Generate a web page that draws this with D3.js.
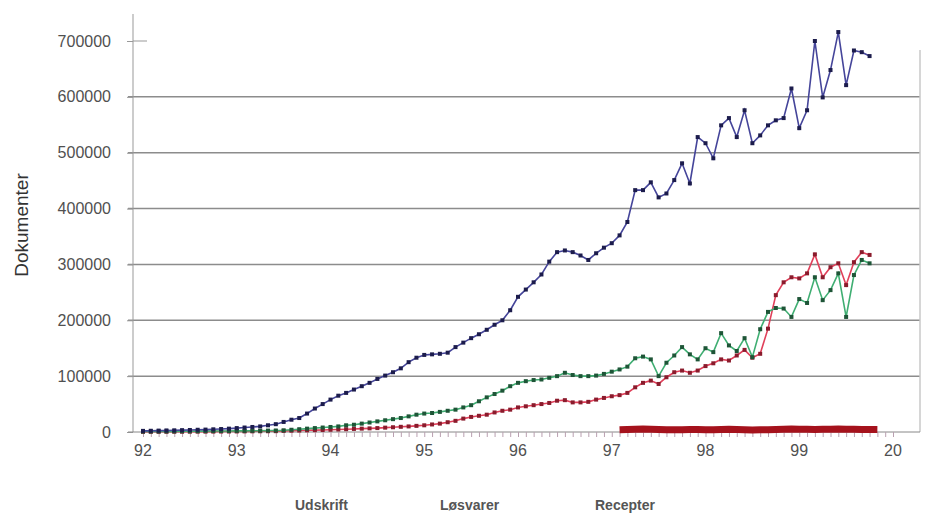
<!DOCTYPE html>
<html>
<head>
<meta charset="utf-8">
<script src="https://cdn.jsdelivr.net/npm/d3@7"></script>
<style>
body { margin: 0; background: #fff; }
svg text { font-family: "Liberation Sans", Arial, sans-serif; }
</style>
</head>
<body>
<div id="chart"></div>
<script>
var w = 929;
var h = 513;

// month index 0 = jan 1992, 93 = okt 1999
var yearTicks = [0, 12, 24, 36, 48, 60, 72, 84, 96];
var yearLabels = ["92", "93", "94", "95", "96", "97", "98", "99", "20"];
var yTicks = [0, 100000, 200000, 300000, 400000, 500000, 600000, 700000];
var seriesNames = ["Udskrift", "Løsvarer", "Recepter"];

var blue = [
	2000, 2200, 2500, 2800, 3000, 3300, 3600, 4000, 4300, 4800, 5300, 6000,
	7000, 8000, 9000, 10000, 12000, 14000, 18000, 22000, 25000, 33000, 42000, 50000,
	58000, 65000, 70000, 76000, 82000, 88000, 95000, 101000, 107000, 114000, 125000, 133000,
	138000, 139000, 140000, 142000, 152000, 160000, 168000, 175000, 183000, 192000, 200000, 218000,
	242000, 255000, 268000, 282000, 305000, 322000, 325000, 322000, 316000, 308000, 320000, 330000,
	338000, 352000, 376000, 433000, 433000, 447000, 420000, 427000, 451000, 481000, 445000, 528000,
	517000, 490000, 549000, 562000, 528000, 576000, 517000, 531000, 549000, 558000, 562000, 615000,
	544000, 576000, 700000, 599000, 648000, 716000, 621000, 683000, 680000, 673000
];

var green = [
	800, 900, 1000, 1100, 1200, 1300, 1400, 1500, 1600, 1700, 1800, 1900,
	2000, 2100, 2200, 2300, 2500, 2700, 3000, 4000, 5000, 6000, 7000, 8000,
	9000, 10000, 12000, 13000, 15000, 17000, 19000, 21000, 23000, 25000, 28000, 31000,
	33000, 34000, 36000, 38000, 40000, 44000, 48000, 55000, 62000, 68000, 74000, 82000,
	88000, 91000, 93000, 94000, 97000, 100000, 106000, 102000, 100000, 100000, 101000, 104000,
	108000, 112000, 117000, 132000, 135000, 130000, 100000, 124000, 137000, 152000, 139000, 130000,
	150000, 143000, 177000, 155000, 145000, 168000, 134000, 184000, 215000, 222000, 221000, 206000,
	238000, 231000, 277000, 236000, 254000, 284000, 206000, 281000, 308000, 302000
];

var red = [
	300, 350, 400, 450, 500, 550, 600, 650, 700, 750, 800, 900,
	1000, 1100, 1200, 1300, 1400, 1500, 2000, 2300, 2600, 3000, 3300, 3600,
	4000, 4500, 5000, 5500, 6000, 6500, 7000, 7800, 8500, 9300, 10000, 11000,
	12000, 13500, 15000, 17500, 20000, 24000, 27000, 29000, 31000, 35000, 38000, 40000,
	44000, 46000, 48000, 50000, 52000, 56000, 57000, 53000, 53000, 54000, 58000, 61000,
	64000, 66000, 70000, 80000, 88000, 92000, 86000, 98000, 107000, 110000, 106000, 110000,
	118000, 123000, 130000, 128000, 137000, 147000, 133000, 140000, 185000, 245000, 268000, 277000,
	275000, 284000, 318000, 277000, 295000, 302000, 263000, 304000, 322000, 317000
];

// fourth series close to zero, from feb 1997
var lowStart = 61;
var low = [
	4000, 4500, 5000, 5500, 5000, 4500, 4000, 4000, 4200, 4500, 4300, 4000,
	4200, 4500, 4800, 4400, 4000, 3800, 4000, 4200, 4600, 5000, 5200, 5000,
	4800, 4600, 4800, 5000, 5200, 5000, 4800, 4600, 4500, 4400
];

var svg = d3.select("#chart")
	.append("svg")
	.attr("width", w)
	.attr("height", h);

var xScale = d3.scaleLinear()
	.domain([0, 96])
	.range([143, 893]);

var yScale = d3.scaleLinear()
	.domain([0, 700000])
	.range([432, 41]);

//gridlines
svg.append("g")
	.selectAll("line")
	.data(yTicks.filter(function (d) { return d > 0 && d < 700000; }))
	.enter()
	.append("line")
	.attr("x1", 128)
	.attr("x2", 920)
	.attr("y1", function (d) { return yScale(d); })
	.attr("y2", function (d) { return yScale(d); })
	.attr("stroke", "#8c8c8c")
	.attr("stroke-width", 1.5);

// frame right side
svg.append("line")
	.attr("x1", 920).attr("x2", 920)
	.attr("y1", 50).attr("y2", 432)
	.attr("stroke", "#c8c8c8")
	.attr("stroke-width", 1.5);

//y axis
var yAxis = svg.append("g")
	.attr("transform", "translate(133,0)")
	.call(d3.axisLeft(yScale).tickValues(yTicks).tickFormat(d3.format("d")).tickSize(6).tickPadding(16));
yAxis.select(".domain").attr("stroke", "#999").attr("d", "M0,14V432");
yAxis.selectAll(".tick line").attr("stroke", "#999");
yAxis.selectAll(".tick text")
	.attr("fill", "#505050")
	.attr("font-size", "16px");
yAxis.append("line")
	.attr("x1", 0).attr("x2", 14)
	.attr("y1", yScale(700000)).attr("y2", yScale(700000))
	.attr("stroke", "#999");

//x axis
var xAxis = svg.append("g")
	.attr("transform", "translate(0,432)")
	.call(d3.axisBottom(xScale).tickValues(d3.range(0, 97)).tickSize(5).tickFormat(""));
xAxis.select(".domain").attr("stroke", "#888").attr("d", "M128,0H920");
xAxis.selectAll(".tick line").attr("stroke", "#b9a0b0");

svg.append("g")
	.selectAll("text")
	.data(yearTicks)
	.enter()
	.append("text")
	.attr("x", function (d) { return xScale(d); })
	.attr("y", 456)
	.attr("text-anchor", "middle")
	.attr("font-size", "16px")
	.attr("fill", "#505050")
	.text(function (d, i) { return yearLabels[i]; });

svg.append("text")
	.attr("transform", "translate(28,225) rotate(-90)")
	.attr("text-anchor", "middle")
	.attr("font-size", "19px")
	.attr("fill", "#333")
	.text("Dokumenter");

var line = d3.line()
	.x(function (d) { return xScale(d[0]); })
	.y(function (d) { return yScale(d[1]); });

function pts(arr, start) {
	return arr.map(function (v, i) { return [i + start, v]; });
}

var series = [
	{ data: pts(red, 0), line: "#e0405a", mark: "#8a1b2c" },
	{ data: pts(green, 0), line: "#3fae72", mark: "#1e5537" },
	{ data: pts(blue, 0), line: "#45459a", mark: "#1c1c4c" }
];

series.forEach(function (s) {
	svg.append("path")
		.datum(s.data)
		.attr("fill", "none")
		.attr("stroke", s.line)
		.attr("stroke-width", 1.6)
		.attr("d", line);
	svg.append("g")
		.selectAll("rect")
		.data(s.data)
		.enter()
		.append("rect")
		.attr("x", function (d) { return xScale(d[0]) - 2; })
		.attr("y", function (d) { return yScale(d[1]) - 2; })
		.attr("width", 4)
		.attr("height", 4)
		.attr("fill", s.mark);
});

// thick dark red band near zero
svg.append("path")
	.datum(pts(low, lowStart))
	.attr("fill", "none")
	.attr("stroke", "#a5121c")
	.attr("stroke-width", 7)
	.attr("d", line);

//legend
var legendX = [295, 440, 595];
svg.append("g")
	.selectAll("text")
	.data(seriesNames)
	.enter()
	.append("text")
	.attr("x", function (d, i) { return legendX[i]; })
	.attr("y", 510)
	.attr("font-size", "14px")
	.attr("font-weight", "bold")
	.attr("fill", "#555")
	.text(function (d) { return d; });
</script>
</body>
</html>
